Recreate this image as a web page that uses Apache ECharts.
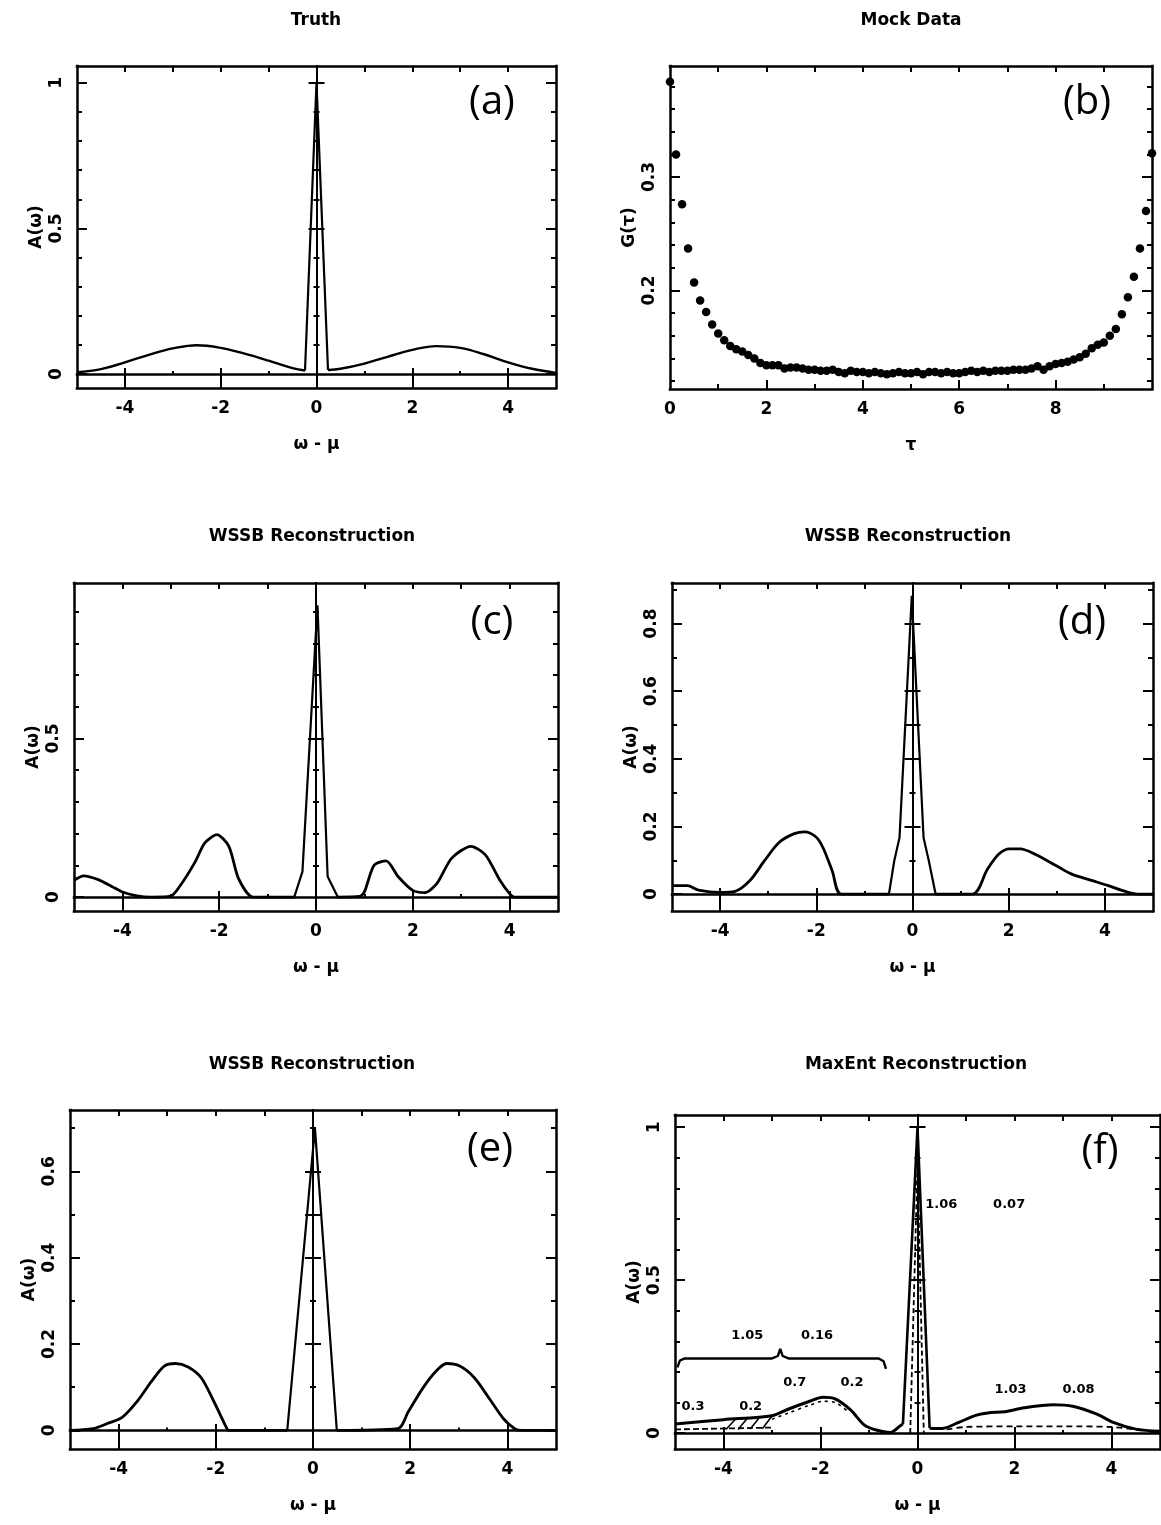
<!DOCTYPE html>
<html>
<head>
<meta charset="utf-8">
<script src="https://cdn.jsdelivr.net/npm/echarts@6/dist/echarts.min.js"></script>
<style>html,body{margin:0;padding:0;background:#fff}#c{width:1161px;height:1525px}</style>
</head>
<body>
<div id="c"></div>
<script>
// ---------------- text ----------------
const panelTitles = ['Truth', 'Mock Data', 'WSSB Reconstruction', 'WSSB Reconstruction', 'WSSB Reconstruction', 'MaxEnt Reconstruction'];
const panelLetters = ['(a)', '(b)', '(c)', '(d)', '(e)', '(f)'];
const omegaName = 'ω - μ';
const specName = 'A(ω)';
const tauName = 'τ';
const greenName = 'G(τ)';

// ---------------- tick values / labels ----------------
const omegaLabels = [-4, -2, 0, 2, 4];
const omegaAllTicks = [-4, -3, -2, -1, 0, 1, 2, 3, 4];
const omegaLongTicks = [-4, -2, 2, 4];
const omegaShortTicks = [-3, -1, 1, 3];
const tauLabels = [0, 2, 4, 6, 8];
const tauAllTicks = [1, 2, 3, 4, 5, 6, 7, 8, 9];
const tauLongTicks = [2, 4, 6, 8];
const gLabels = [0.2, 0.3];
const gTicks = [0.12, 0.14, 0.16, 0.18, 0.2, 0.22, 0.24, 0.26, 0.28, 0.3, 0.32, 0.34, 0.36, 0.38];

const aYTicks = [0, 0.1, 0.2, 0.3, 0.4, 0.5, 0.6, 0.7, 0.8, 0.9, 1.0];
const aYLabels = [0, 0.5, 1];
const aCrossMinor = [0.1, 0.2, 0.3, 0.4, 0.6, 0.7, 0.8, 0.9];
const aCrossMajor = [0.5, 1.0];

const cYTicks = [0, 0.1, 0.2, 0.3, 0.4, 0.5, 0.6, 0.7, 0.8, 0.9];
const cYLabels = [0, 0.5];
const cCrossMinor = [0.1, 0.2, 0.3, 0.4, 0.6, 0.7, 0.8, 0.9];
const cCrossMajor = [0.5];

const dYTicks = [0, 0.1, 0.2, 0.3, 0.4, 0.5, 0.6, 0.7, 0.8, 0.9];
const dYLabels = [0, 0.2, 0.4, 0.6, 0.8];
const dCrossMinor = [0.1, 0.3, 0.7];
const dCrossMajor = [0.2, 0.4, 0.5, 0.6, 0.8];

const eYTicks = [0, 0.1, 0.2, 0.3, 0.4, 0.5, 0.6, 0.7];
const eYLabels = [0, 0.2, 0.4, 0.6];
const eCrossMinor = [0.1, 0.3, 0.7];
const eCrossMajor = [0.2, 0.4, 0.5, 0.6];

const fYTicks = [0, 0.1, 0.2, 0.3, 0.4, 0.5, 0.6, 0.7, 0.8, 0.9, 1.0];
const fYLabels = [0, 0.5, 1];
const fCrossMinor = [0.1, 0.2, 0.3, 0.4, 0.6, 0.7, 0.8, 0.9];
const fCrossMajor = [0.5, 1.0];

// ---------------- (a) Truth ----------------
const aLeftW = [-5, -4.5, -4, -3.5, -3, -2.5, -2, -1.5, -1, -0.5, -0.24];
const aLeftA = [0.006, 0.017, 0.040, 0.066, 0.088, 0.099, 0.090, 0.070, 0.046, 0.020, 0.012];
const aPeakW = [-0.24, 0, 0.24];
const aPeakA = [0.012, 1.0, 0.014];
const aRightW = [0.24, 0.5, 1, 1.5, 2, 2.5, 3, 3.5, 4, 4.5, 5];
const aRightA = [0.014, 0.018, 0.036, 0.060, 0.083, 0.096, 0.090, 0.068, 0.040, 0.018, 0.004];

// ---------------- (b) Mock data ----------------
const tauValues = [0, 0.125, 0.25, 0.375, 0.5, 0.625, 0.75, 0.875, 1, 1.125, 1.25, 1.375, 1.5, 1.625, 1.75, 1.875,
  2, 2.125, 2.25, 2.375, 2.5, 2.625, 2.75, 2.875, 3, 3.125, 3.25, 3.375, 3.5, 3.625, 3.75, 3.875,
  4, 4.125, 4.25, 4.375, 4.5, 4.625, 4.75, 4.875, 5, 5.125, 5.25, 5.375, 5.5, 5.625, 5.75, 5.875,
  6, 6.125, 6.25, 6.375, 6.5, 6.625, 6.75, 6.875, 7, 7.125, 7.25, 7.375, 7.5, 7.625, 7.75, 7.875,
  8, 8.125, 8.25, 8.375, 8.5, 8.625, 8.75, 8.875, 9, 9.125, 9.25, 9.375, 9.5, 9.625, 9.75, 9.875, 10];
const gValues = [0.384, 0.320, 0.276, 0.237, 0.207, 0.191, 0.181, 0.170, 0.162, 0.156, 0.151, 0.148, 0.146, 0.143, 0.140, 0.136,
  0.134, 0.134, 0.134, 0.131, 0.132, 0.132, 0.131, 0.130, 0.130, 0.129, 0.129, 0.130, 0.128, 0.127, 0.129, 0.128,
  0.128, 0.127, 0.128, 0.127, 0.126, 0.127, 0.128, 0.127, 0.127, 0.128, 0.126, 0.128, 0.128, 0.127, 0.128, 0.127,
  0.127, 0.128, 0.129, 0.128, 0.129, 0.128, 0.129, 0.129, 0.129, 0.130, 0.130, 0.130, 0.131, 0.133, 0.130, 0.133,
  0.135, 0.136, 0.137, 0.139, 0.141, 0.144, 0.149, 0.152, 0.154, 0.160, 0.166, 0.179, 0.194, 0.212, 0.237, 0.270, 0.321];

// ---------------- (c) WSSB ----------------
const cLeftW = [-5, -4.8, -4.5, -4.2, -4, -3.7, -3.4, -3.0, -2.8, -2.5, -2.3, -2.05, -1.8, -1.6, -1.3, -0.45];
const cLeftA = [0.053, 0.067, 0.055, 0.032, 0.016, 0.004, 0.0, 0.003, 0.037, 0.11, 0.17, 0.197, 0.16, 0.058, 0.0, 0.0];
const cPeakW = [-0.45, -0.28, 0.03, 0.24, 0.45];
const cPeakA = [0.0, 0.08, 0.92, 0.065, 0.0];
const cRightW = [0.45, 0.9, 1.0, 1.2, 1.45, 1.7, 2.0, 2.25, 2.5, 2.8, 3.2, 3.5, 3.8, 4.0, 4.1, 5];
const cRightA = [0, 0.002, 0.016, 0.10, 0.114, 0.064, 0.021, 0.014, 0.043, 0.122, 0.16, 0.133, 0.053, 0.011, 0, 0];

// ---------------- (d) WSSB ----------------
const dLeftW = [-5, -4.68, -4.45, -4.0, -3.69, -3.38, -3.08, -2.78, -2.47, -2.24, -2.0, -1.86, -1.67, -1.48, -0.49];
const dLeftA = [0.025, 0.025, 0.012, 0.005, 0.008, 0.04, 0.098, 0.152, 0.178, 0.184, 0.168, 0.137, 0.069, 0.0, 0.0];
const dPeakW = [-0.49, -0.38, -0.27, -0.015, 0.23, 0.34, 0.48];
const dPeakA = [0.0, 0.098, 0.167, 0.882, 0.167, 0.098, 0.0];
const dRightW = [0.48, 1.25, 1.56, 1.79, 2.02, 2.24, 2.55, 3.0, 3.31, 3.76, 4.07, 4.37, 4.68, 5];
const dRightA = [0, 0, 0.074, 0.118, 0.134, 0.134, 0.118, 0.083, 0.059, 0.039, 0.025, 0.01, 0.0, 0.0];

// ---------------- (e) WSSB ----------------
const eLeftW = [-5, -4.53, -4.23, -3.92, -3.62, -3.32, -3.06, -2.83, -2.57, -2.30, -2.04, -1.77, -1.74, -0.53];
const eLeftA = [0, 0.004, 0.016, 0.031, 0.067, 0.114, 0.149, 0.155, 0.147, 0.122, 0.067, 0.004, 0, 0];
const ePeakW = [-0.53, 0.04, 0.49];
const ePeakA = [0, 0.70, 0];
const eRightW = [0.49, 1.74, 1.96, 2.26, 2.53, 2.75, 3.02, 3.32, 3.62, 3.92, 4.15, 4.3, 5];
const eRightA = [0, 0.004, 0.043, 0.098, 0.137, 0.155, 0.149, 0.122, 0.075, 0.027, 0.004, 0, 0];

// ---------------- (f) MaxEnt ----------------
const fLeftW = [-5, -4, -3.0, -2.67, -2.21, -1.95, -1.7, -1.38, -1.1, -0.85, -0.56, -0.36, -0.3];
const fLeftA = [0.03, 0.044, 0.057, 0.078, 0.105, 0.117, 0.112, 0.076, 0.027, 0.01, 0.002, 0.023, 0.03];
const fPeakW = [-0.3, 0, 0.25];
const fPeakA = [0.03, 1.0, 0.016];
const fRightW = [0.25, 0.5, 0.85, 1.2, 1.45, 1.8, 2.2, 2.8, 3.2, 3.7, 4.05, 4.5, 5];
const fRightA = [0.016, 0.015, 0.035, 0.058, 0.066, 0.07, 0.083, 0.093, 0.088, 0.062, 0.034, 0.013, 0.006];
const fPeakInnerW = [-0.15, 0, 0.13];
const fPeakInnerA = [0.0, 0.88, 0.0];
const fLowLeftW = [-5, -3.0];
const fLowLeftA = [0.012, 0.018];
const fLowMidW = [-3.0, -2.67, -2.21, -1.95, -1.7, -1.4];
const fLowMidA = [0.045, 0.065, 0.092, 0.104, 0.1, 0.066];
const fLowRightW = [0.6, 1.0, 2.0, 3.0, 4.0, 4.6];
const fLowRightA = [0.012, 0.02, 0.022, 0.022, 0.02, 0.01];
const fHatchW = [-3.95, -3.75, null, -3.7, -3.5, null, -3.45, -3.25, null, -3.2, -3.0];
const fHatchA = [0.012, 0.046, null, 0.012, 0.05, null, 0.013, 0.053, null, 0.014, 0.056];
const fBraceW = [-4.95, -4.9, -4.8, -3.0, -2.88, -2.83, -2.78, -2.66, -0.8, -0.7, -0.65];
const fBraceA = [0.215, 0.237, 0.244, 0.244, 0.252, 0.275, 0.252, 0.244, 0.244, 0.235, 0.21];
const fNoteText = ['1.06', '0.07', '1.05', '0.16', '0.7', '0.2', '0.3', '0.2', '1.03', '0.08'];
const fNoteW = [0.5, 1.9, -3.5, -2.06, -2.52, -1.34, -4.62, -3.43, 1.93, 3.33];
const fNoteA = [0.745, 0.745, 0.318, 0.318, 0.163, 0.163, 0.086, 0.086, 0.139, 0.139];

// ======================================================================
const INK = '#000000';
const FONT = 'DejaVu Sans';

function zip(xs, ys) {
  return xs.map((x, i) => (x === null || ys[i] === null) ? '-' : [x, ys[i]]);
}
function fmt(v) {
  if (v < 0) return '-' + Math.abs(v);
  return String(+Number(v).toFixed(3));
}

const option = {
  animation: false,
  backgroundColor: '#ffffff',
  textStyle: { fontFamily: FONT },
  grid: [], xAxis: [], yAxis: [], series: [],
  graphic: { elements: [] }
};

function axisDef(gi, range, position, o) {
  o = o || {};
  const ax = {
    type: 'value', gridIndex: gi, min: range[0], max: range[1], position: position,
    splitLine: { show: false },
    axisLine: { show: !!o.lineW, onZero: o.onZero != null, lineStyle: { color: INK, width: o.lineW || 1, cap: 'square' } },
    axisTick: o.ticks ? { show: true, inside: o.inside !== false, length: o.len, customValues: o.ticks,
      lineStyle: { color: INK, width: o.tickW || 2 } } : { show: false },
    axisLabel: o.labels ? { show: true, customValues: o.labels, margin: o.margin || 12, rotate: o.rotate || 0,
      color: INK, fontFamily: FONT, fontWeight: 'bold', fontSize: 17, formatter: fmt } : { show: false },
    axisPointer: { show: false }
  };
  if (o.onZero != null) ax.axisLine.onZeroAxisIndex = o.onZero;
  if (o.name) {
    ax.name = o.name;
    ax.nameLocation = 'middle';
    ax.nameGap = o.nameGap;
    if (o.nameRotate != null) ax.nameRotate = o.nameRotate;
    ax.nameTextStyle = { color: INK, fontFamily: FONT, fontWeight: 'bold', fontSize: 17 };
  }
  return ax;
}

function addGrid(r) {
  const gi = option.grid.length;
  option.grid.push({ left: r[0], top: r[1], width: r[2], height: r[3], containLabel: false, outerBoundsMode: 'none' });
  return gi;
}

function omegaPanel(r, yRange, yTicks, yMajorLabels, crossMinor, crossMajor) {
  const gi = addGrid(r);
  const bx = option.xAxis.length, by = option.yAxis.length;
  const xr = [-5, 5];
  const longLen = Math.round((0 - yRange[0]) / (yRange[1] - yRange[0]) * r[3]) + 6;
  option.xAxis.push(
    axisDef(gi, xr, 'bottom', { lineW: 2.5, ticks: omegaLongTicks, len: longLen, labels: omegaLabels, name: omegaName, nameGap: 48 }),
    axisDef(gi, xr, 'top', { lineW: 2.5, ticks: omegaAllTicks, len: 6 }),
    axisDef(gi, xr, 'bottom', { lineW: 2.5, onZero: by, ticks: omegaShortTicks, len: 3 })
  );
  option.yAxis.push(
    axisDef(gi, yRange, 'left', { lineW: 2.5, ticks: yTicks, len: 5, labels: yMajorLabels, rotate: 90, name: specName, nameGap: 32, nameRotate: 90 }),
    axisDef(gi, yRange, 'left', { ticks: yMajorLabels, len: 10 }),
    axisDef(gi, yRange, 'right', { lineW: 2.5, ticks: yTicks, len: 5 }),
    axisDef(gi, yRange, 'right', { ticks: yMajorLabels, len: 10 }),
    axisDef(gi, yRange, 'left', { lineW: 2, onZero: bx, ticks: crossMinor, len: 3 }),
    axisDef(gi, yRange, 'left', { onZero: bx, ticks: crossMinor, len: 3, inside: false }),
    axisDef(gi, yRange, 'left', { onZero: bx, ticks: crossMajor, len: 8 }),
    axisDef(gi, yRange, 'left', { onZero: bx, ticks: crossMajor, len: 8, inside: false })
  );
  return { bx: bx, by: by };
}

function line(p, xs, ys, o) {
  o = o || {};
  option.series.push({
    type: 'line', xAxisIndex: p.bx, yAxisIndex: p.by, data: zip(xs, ys),
    symbol: 'none', showSymbol: false, smooth: o.smooth || false, connectNulls: false,
    lineStyle: { color: INK, width: o.width || 2.8, type: o.dash || 'solid' },
    silent: true, z: 5
  });
}

// ---- panel (a)
const pa = omegaPanel([77, 66, 479, 322], [-0.048, 1.058], aYTicks, aYLabels, aCrossMinor, aCrossMajor);
line(pa, aLeftW, aLeftA, { smooth: 0.4, width: 2.4 });
line(pa, aPeakW, aPeakA, { width: 2.2 });
line(pa, aRightW, aRightA, { smooth: 0.4, width: 2.4 });

// ---- panel (b)
(function () {
  const r = [670, 66, 482, 323];
  const gi = addGrid(r);
  const bx = option.xAxis.length, by = option.yAxis.length;
  const xr = [0, 10], yr = [0.113, 0.398];
  option.xAxis.push(
    axisDef(gi, xr, 'bottom', { lineW: 2.5, ticks: tauAllTicks, len: 5, labels: tauLabels, name: tauName, nameGap: 48 }),
    axisDef(gi, xr, 'bottom', { ticks: tauLongTicks, len: 9 }),
    axisDef(gi, xr, 'top', { lineW: 2.5, ticks: tauAllTicks, len: 6 })
  );
  option.yAxis.push(
    axisDef(gi, yr, 'left', { lineW: 2.5, ticks: gTicks, len: 5, labels: gLabels, rotate: 90, name: greenName, nameGap: 32, nameRotate: 90 }),
    axisDef(gi, yr, 'left', { ticks: gLabels, len: 10 }),
    axisDef(gi, yr, 'right', { lineW: 2.5, ticks: gTicks, len: 5 }),
    axisDef(gi, yr, 'right', { ticks: gLabels, len: 10 })
  );
  option.series.push({
    type: 'scatter', xAxisIndex: bx, yAxisIndex: by, data: zip(tauValues, gValues),
    symbol: 'circle', symbolSize: 8.5, itemStyle: { color: INK, opacity: 1 }, silent: true, clip: false, z: 5
  });
})();

// ---- panel (c)
const pc = omegaPanel([74, 583, 484, 328], [-0.044, 0.99], cYTicks, cYLabels, cCrossMinor, cCrossMajor);
line(pc, cLeftW, cLeftA, { smooth: 0.25 });
line(pc, cPeakW, cPeakA, { width: 2.2 });
line(pc, cRightW, cRightA, { smooth: 0.25 });

// ---- panel (d)
const pd = omegaPanel([672, 583, 481, 328], [-0.05, 0.92], dYTicks, dYLabels, dCrossMinor, dCrossMajor);
line(pd, dLeftW, dLeftA, { smooth: 0.3 });
line(pd, dPeakW, dPeakA, { width: 2.2 });
line(pd, dRightW, dRightA, { smooth: 0.3 });

// ---- panel (e)
const pe = omegaPanel([70, 1110, 486, 339], [-0.043, 0.742], eYTicks, eYLabels, eCrossMinor, eCrossMajor);
line(pe, eLeftW, eLeftA, { smooth: 0.3 });
line(pe, ePeakW, ePeakA, { width: 2.2 });
line(pe, eRightW, eRightA, { smooth: 0.3 });

// ---- panel (f)
const pf = omegaPanel([675, 1115, 485, 334], [-0.052, 1.04], fYTicks, fYLabels, fCrossMinor, fCrossMajor);
line(pf, fLeftW, fLeftA, { smooth: 0.3, width: 3 });
line(pf, fPeakW, fPeakA, { width: 2.6 });
line(pf, fRightW, fRightA, { smooth: 0.3, width: 3 });
line(pf, fPeakInnerW, fPeakInnerA, { width: 1.8, dash: [5, 3] });
line(pf, fLowLeftW, fLowLeftA, { width: 1.8, dash: [6, 3] });
line(pf, fLowMidW, fLowMidA, { width: 1.6, dash: [3, 4], smooth: 0.3 });
line(pf, fLowRightW, fLowRightA, { width: 1.8, dash: [6, 4], smooth: 0.3 });
line(pf, fHatchW, fHatchA, { width: 1.6 });
line(pf, fBraceW, fBraceA, { width: 2.4 });
option.series.push({
  type: 'scatter', xAxisIndex: pf.bx, yAxisIndex: pf.by,
  data: fNoteW.map((w, i) => ({ value: [w, fNoteA[i]], name: fNoteText[i] })),
  symbol: 'circle', symbolSize: 1, itemStyle: { color: '#ffffff', opacity: 0 }, silent: true, z: 6,
  label: { show: true, position: [0, 0], align: 'center', verticalAlign: 'middle', formatter: '{b}',
    color: '#000000', opacity: 1, textBorderWidth: 0, fontFamily: FONT, fontWeight: 'bold', fontSize: 13 }
});

// ---- titles and panel letters
const titlePos = [[316, 21], [911, 21], [312, 537], [908, 537], [312, 1065], [916, 1065]];
const letterPos = [[492, 103], [1087, 103], [492, 623], [1082, 623], [490, 1150], [1100, 1152]];
panelTitles.forEach((t, i) => {
  option.graphic.elements.push({
    type: 'text', x: titlePos[i][0], y: titlePos[i][1], silent: true, z: 10,
    style: { text: t, fill: INK, font: 'bold 17px "DejaVu Sans"', align: 'center', verticalAlign: 'middle', textAlign: 'center', textVerticalAlign: 'middle' }
  });
});
panelLetters.forEach((t, i) => {
  option.graphic.elements.push({
    type: 'text', x: letterPos[i][0], y: letterPos[i][1], silent: true, z: 10,
    style: { text: t, fill: INK, font: '40px "Open Sans"', align: 'center', verticalAlign: 'middle', textAlign: 'center', textVerticalAlign: 'middle' }
  });
});

const chart = echarts.init(document.getElementById('c'), null, { renderer: 'canvas' });
chart.setOption(option);
</script>
</body>
</html>
